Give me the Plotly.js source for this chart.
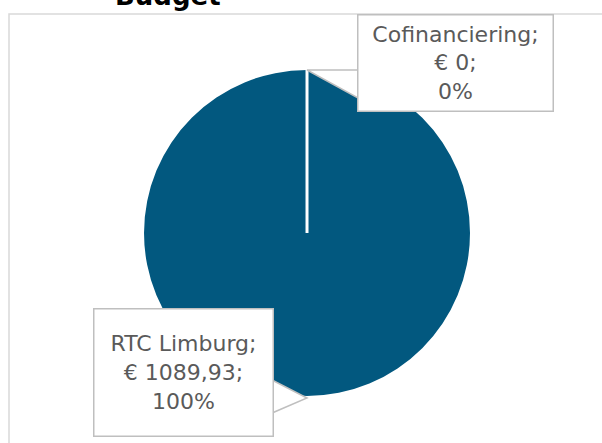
<!DOCTYPE html>
<html>
<head>
<meta charset="utf-8">
<script src="https://cdn.plot.ly/plotly-3.0.1.min.js"></script>
<style>html,body{margin:0;padding:0;background:#fff;}#chart{width:602px;height:443px;}</style>
</head>
<body>
<div id="chart"></div>
<script>
var labels = ['RTC Limburg', 'Cofinanciering'];
var values = [1089.93, 0];
var valueText = ['€ 1089,93', '€ 0'];
var percentText = ['100%', '0%'];
var title = 'Budget';

var W = 602, H = 443;
var mL = 9, mT = 14, mR = 0, mB = 0;
var pw = W - mL - mR, ph = H - mT - mB;
var domX = [0.2277, 0.7774];
var domY = [0.1096, 0.8695];
var cx = (domX[0] + domX[1]) / 2, cy = (domY[0] + domY[1]) / 2;
// paper -> px helpers
function px(x) { return mL + x * pw; }
function py(y) { return mT + (1 - y) * ph; }
function fx(p) { return (p - mL) / pw; }
function fy(p) { return 1 - (p - mT) / ph; }

var topTip = { x: px(cx), y: py(domY[1]) };
var botTip = { x: px(cx), y: py(domY[0]) + 2 };

function wedge(a, tip, b) {
  return 'M' + fx(a[0]) + ',' + fy(a[1]) + ' L' + fx(tip.x) + ',' + fy(tip.y) + ' L' + fx(b[0]) + ',' + fy(b[1]) + ' Z';
}

var labelText = labels.map(function (l, i) {
  return l + ';<br>' + valueText[i] + ';<br>' + percentText[i];
});

var data = [{
  type: 'pie',
  labels: labels,
  values: values,
  sort: false,
  direction: 'clockwise',
  rotation: 0,
  textinfo: 'none',
  hoverinfo: 'none',
  showlegend: false,
  marker: { colors: ['#02587F', '#02587F'], line: { width: 0 } },
  domain: { x: domX, y: domY }
}];

var boxStyle = {
  bgcolor: '#ffffff',
  bordercolor: '#bfbfbf',
  borderwidth: 1.5,
  font: { family: 'DejaVu Sans', size: 22, color: '#5a5a5a' },
  align: 'center',
  showarrow: false,
  xref: 'paper', yref: 'paper',
  xanchor: 'center', yanchor: 'middle'
};

var annotations = [
  Object.assign({}, boxStyle, { text: labelText[1], x: fx(455), y: fy(62.5), width: 192, height: 93 }),
  Object.assign({}, boxStyle, { text: labelText[0], x: fx(183), y: fy(372), width: 176, height: 124 }),
  { text: '<b>' + title + '</b>', xref: 'paper', yref: 'paper', x: fx(168), y: fy(-4), xanchor: 'center', yanchor: 'middle',
    showarrow: false, font: { family: 'DejaVu Sans', size: 26, color: '#000000' } }
];

var shapes = [
  { type: 'rect', xref: 'paper', yref: 'paper', x0: 0, x1: 1.05, y0: -0.05, y1: 1, line: { color: '#d9d9d9', width: 1.5 }, layer: 'below' },
  { type: 'line', xref: 'paper', yref: 'paper', x0: cx, x1: cx, y0: cy, y1: domY[1], line: { color: '#ffffff', width: 3 }, layer: 'above' },
  { type: 'path', xref: 'paper', yref: 'paper', path: wedge([358, 70], topTip, [358, 98]), fillcolor: '#ffffff', line: { color: '#bfbfbf', width: 1.5 }, layer: 'above' },
  { type: 'path', xref: 'paper', yref: 'paper', path: wedge([272, 380], botTip, [272, 413]), fillcolor: '#ffffff', line: { color: '#bfbfbf', width: 1.5 }, layer: 'above' }
];

var layout = {
  width: W, height: H,
  margin: { l: mL, r: mR, t: mT, b: mB, pad: 0 },
  paper_bgcolor: '#ffffff',
  plot_bgcolor: '#ffffff',
  annotations: annotations,
  shapes: shapes
};

Plotly.newPlot('chart', data, layout, { staticPlot: true, displayModeBar: false });
</script>
</body>
</html>
